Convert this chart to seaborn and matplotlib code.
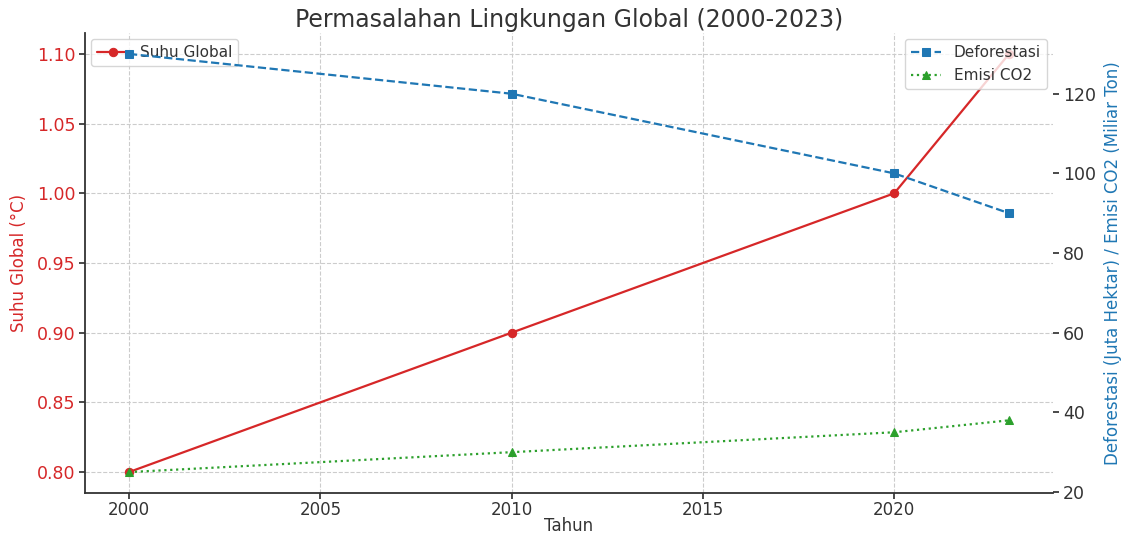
import matplotlib
matplotlib.use("Agg")
import matplotlib.pyplot as plt
import seaborn as sns
import pandas as pd

tahun = [2000, 2010, 2020, 2023]
suhu_global = [0.80, 0.90, 1.00, 1.10]
deforestasi = [130, 120, 100, 90]
emisi_co2 = [25, 30, 35, 38]

sns.set_theme(style="white")
plt.rcParams['font.family'] = ['DejaVu Sans']

RED = "#d62728"
BLUE = "#1f77b4"
GREEN = "#2ca02c"
DARK = "#333333"

df = pd.DataFrame({"Tahun": tahun, "Suhu": suhu_global,
                   "Deforestasi": deforestasi, "Emisi": emisi_co2})

fig = plt.figure(figsize=(11.23, 5.34), dpi=100)
ax1 = fig.add_axes([0.0757, 0.0768, 0.862, 0.8614])

sns.lineplot(data=df, x="Tahun", y="Suhu", ax=ax1, color=RED, marker="o",
             markersize=6, linewidth=1.6, label="Suhu Global",
             markeredgecolor=RED)
ax1.set_ylabel("Suhu Global (°C)", color=RED, fontsize=12, labelpad=6)
ax1.set_xlabel("Tahun", color=DARK, fontsize=12, labelpad=-1)
ax1.tick_params(axis="y", colors=DARK, labelcolor=RED, labelsize=12.5, direction="out", length=4, left=True, pad=3)
ax1.tick_params(axis="x", colors=DARK, labelsize=12, direction="out", length=4, bottom=True, pad=1.5)
ax1.grid(True, linestyle="--", color="#cccccc", linewidth=0.8)
for s in ["top", "right"]:
    ax1.spines[s].set_visible(False)
for s in ["left", "bottom"]:
    ax1.spines[s].set_color(DARK)
    ax1.spines[s].set_linewidth(1.3)
ax1.legend(loc="upper left", fontsize=11, labelcolor=DARK, borderaxespad=0.4)

ax2 = ax1.twinx()
sns.lineplot(data=df, x="Tahun", y="Deforestasi", ax=ax2, color=BLUE, marker="s",
             markersize=6, linewidth=1.6, linestyle="--", label="Deforestasi",
             markeredgecolor=BLUE)
sns.lineplot(data=df, x="Tahun", y="Emisi", ax=ax2, color=GREEN, marker="^",
             markersize=6, linewidth=1.6, linestyle=":", label="Emisi CO2",
             markeredgecolor=GREEN)
ax2.set_ylabel("Deforestasi (Juta Hektar) / Emisi CO2 (Miliar Ton)", color=BLUE, fontsize=12, labelpad=6)
ax2.tick_params(axis="y", colors=DARK, labelsize=12.5, direction="out", length=4, right=True, pad=3)
ax2.grid(False)
for s in ["top", "right", "left", "bottom"]:
    ax2.spines[s].set_visible(False)
ax2.legend(loc="upper right", fontsize=11, labelcolor=DARK, borderaxespad=0.4)

ax1.set_title("Permasalahan Lingkungan Global (2000-2023)", fontsize=17, color=DARK, pad=4)

fig.savefig("out.png", dpi=100)
